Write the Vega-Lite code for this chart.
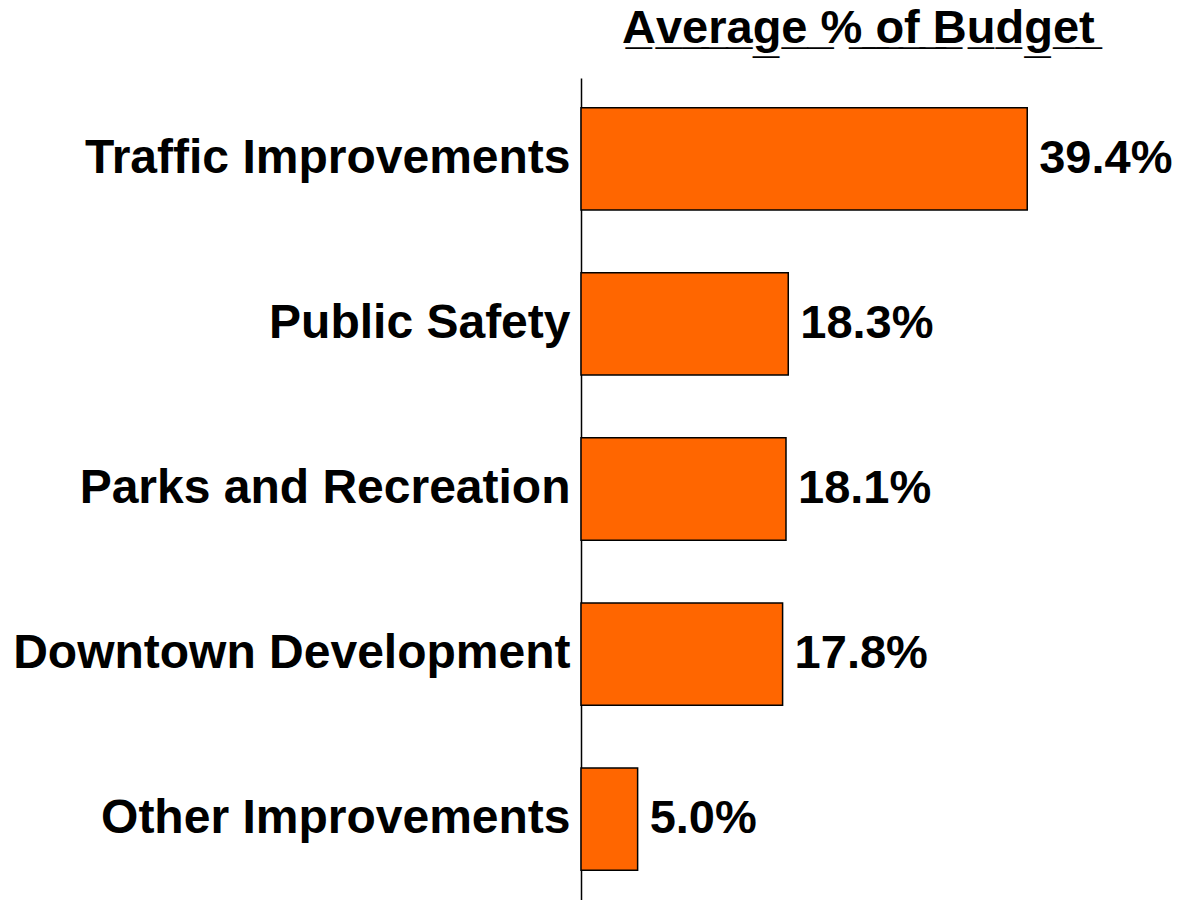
{
  "$schema": "https://vega.github.io/schema/vega-lite/v6.json",
  "width": 598,
  "height": 822,
  "autosize": "none",
  "padding": {"left": 581, "top": 78, "right": 0, "bottom": 0},
  "background": "white",
  "title": {
    "text": "A\u0332v\u0332e\u0332r\u0332a\u0332g\u0332e\u0332 \u0332%\u0332 \u0332o\u0332f\u0332 \u0332B\u0332u\u0332d\u0332g\u0332e\u0332t\u0332",
    "font": "Liberation Sans",
    "fontSize": 47,
    "fontWeight": "bold",
    "color": "black",
    "anchor": "start",
    "frame": "group",
    "baseline": "bottom",
    "offset": 23,
    "dx": 41,
    "dy": 45
  },
  "data": {
    "values": [
      {"category": "Traffic Improvements", "pct": 39.4, "label": "39.4%"},
      {"category": "Public Safety", "pct": 18.3, "label": "18.3%"},
      {"category": "Parks and Recreation", "pct": 18.1, "label": "18.1%"},
      {"category": "Downtown Development", "pct": 17.8, "label": "17.8%"},
      {"category": "Other Improvements", "pct": 5.0, "label": "5.0%"}
    ]
  },
  "encoding": {
    "y": {
      "field": "category",
      "type": "nominal",
      "sort": null,
      "scale": {"paddingInner": 0.38, "paddingOuter": 0.18},
      "axis": {
        "title": null,
        "ticks": false,
        "grid": false,
        "domainColor": "black",
        "domainWidth": 1.5,
        "labelPadding": 11,
        "labelFont": "Liberation Sans",
        "labelFontSize": 48,
        "labelFontWeight": "bold",
        "labelColor": "black",
        "labelLimit": 700
      }
    },
    "x": {
      "field": "pct",
      "type": "quantitative",
      "scale": {"domain": [0, 52.8]},
      "axis": null
    }
  },
  "layer": [
    {
      "mark": {"type": "bar", "color": "#FF6600", "stroke": "black", "strokeWidth": 1.5}
    },
    {
      "mark": {
        "type": "text",
        "align": "left",
        "baseline": "middle",
        "dx": 12,
        "font": "Liberation Sans",
        "fontSize": 47,
        "fontWeight": "bold",
        "color": "black"
      },
      "encoding": {"text": {"field": "label"}}
    }
  ],
  "config": {"view": {"stroke": null}}
}
